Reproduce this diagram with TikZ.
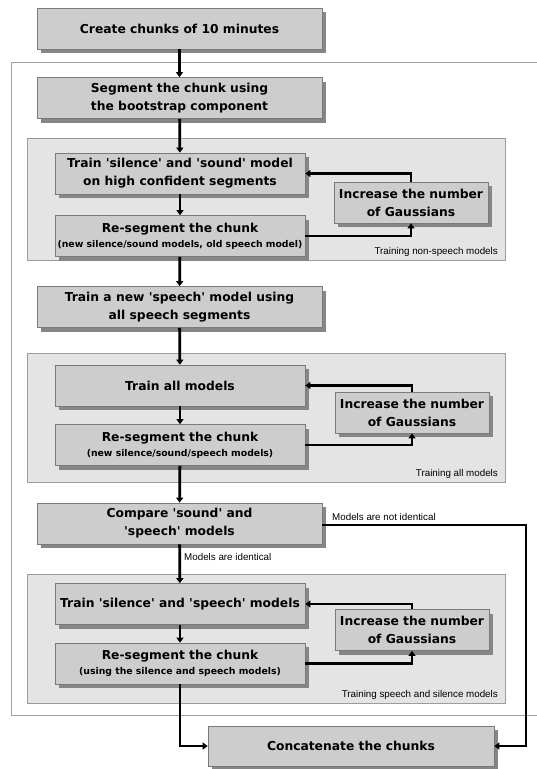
\documentclass[tikz,border=0pt]{standalone}
\usepackage{fontspec}
\setmainfont{DejaVu Sans}
\newfontfamily\labfont{Liberation Sans}
\usetikzlibrary{shadows,arrows.meta}
\definecolor{boxfill}{HTML}{CDCDCD}
\definecolor{boxline}{HTML}{7A7A7A}
\definecolor{shadowgray}{HTML}{868686}
\definecolor{panelfill}{HTML}{E4E4E4}
\definecolor{panelline}{HTML}{9C9C9C}
\definecolor{framecol}{HTML}{A0A0A0}
\newcommand\qq{\textquotesingle}
\newcommand\subline[1]{{\fontsize{9.3}{11}\selectfont #1}}
\begin{document}
\begin{tikzpicture}[x=1pt,y=-1pt,
  box/.style={draw=boxline, line width=0.7pt, fill=boxfill,
    drop shadow={shadow xshift=4pt,shadow yshift=-4pt,fill=shadowgray,opacity=1},
    inner sep=0pt, align=center, font=\bfseries\fontsize{12.3}{18}\selectfont},
  big/.style={box, minimum width=285pt, minimum height=41pt},
  mid/.style={box, minimum width=250pt, minimum height=41pt},
  incbox/.style={box, minimum width=154pt, minimum height=41pt},
  panel/.style={draw=panelline, fill=panelfill, line width=0.7pt},
  flow/.style={line width=2.8pt, -{Triangle[length=5pt,width=7pt]}},
  lbl/.style={font=\labfont\fontsize{9.8}{12}\selectfont, inner sep=0pt}]
\fill[white] (0,0) rectangle (536,769);
\useasboundingbox (0,0) rectangle (536,769);
% outer frame (open to the right)
\draw[framecol, line width=0.8pt] (537,62) -- (11,62) -- (11,715) -- (537,715);
% panels
\draw[panel] (27,138) rectangle (505,260);
\draw[panel] (27,353) rectangle (505,482);
\draw[panel] (27,574) rectangle (505,703);
\node[lbl, anchor=east] (p1) at (498,252) {Training non-speech models};
\node[lbl, anchor=east] (p2) at (498,474) {Training all models};
\node[lbl, anchor=east] (p3) at (498,695) {Training speech and silence models};
% nodes
\node[big] (create) at (179.5,28.5) {Create chunks of 10 minutes};
\node[big] (seg) at (179.5,98) {Segment the chunk using\\the bootstrap component};
\node[mid] (train1) at (180,173.5) {Train \qq silence\qq\ and \qq sound\qq\ model\\on high confident segments};
\node[mid] (reseg1) at (180,236) {Re-segment the chunk\\[-3pt]\subline{(new silence/sound models, old speech model)}};
\node[incbox] (inc1) at (411,202.5) {Increase the number\\of Gaussians};
\node[big] (speech) at (179.5,307) {Train a new \qq speech\qq\ model using\\all speech segments};
\node[mid] (trainall) at (180,385.5) {Train all models};
\node[mid] (reseg2) at (180,445) {Re-segment the chunk\\[-3pt]\subline{(new silence/sound/speech models)}};
\node[incbox] (inc2) at (412,412.5) {Increase the number\\of Gaussians};
\node[big] (compare) at (179.5,523.5) {Compare \qq sound\qq\ and\\\qq speech\qq\ models};
\node[mid] (trainsil) at (180,604) {Train \qq silence\qq\ and \qq speech\qq\ models};
\node[mid] (reseg3) at (180,663.5) {Re-segment the chunk\\[-3pt]\subline{(using the silence and speech models)}};
\node[incbox] (inc3) at (412,630) {Increase the number\\of Gaussians};
\node[box, minimum width=286pt, minimum height=40pt] (concat) at (351,746) {Concatenate the chunks};
% labels
\node[lbl, anchor=west] (lnot) at (332,517) {Models are not identical};
\node[lbl, anchor=west] (lid) at (184,557) {Models are identical};
% connectors
\draw[flow] (create) -- (seg);
\draw[flow] (seg) -- (train1);
\draw[flow] (train1) -- (reseg1);
\draw[flow] (inc1.north) |- (train1.east);
\draw[flow] (reseg1.east) -| (inc1.south);
\draw[flow] (reseg1) -- (speech);
\draw[flow] (speech) -- (trainall);
\draw[flow] (trainall) -- (reseg2);
\draw[flow] (inc2.north) |- (trainall.east);
\draw[flow] (reseg2.east) -| (inc2.south);
\draw[flow] (reseg2) -- (compare);
\draw[flow] (compare) -- (trainsil);
\draw[flow] (trainsil) -- (reseg3);
\draw[flow] (inc3.north) |- (trainsil.east);
\draw[flow] (reseg3.east) -| (inc3.south);
\coordinate (rt) at (526,525);
\draw[flow] (compare.east |- rt) -- (rt) |- (concat.east);
\draw[flow] (reseg3.south) |- (concat.west);
\end{tikzpicture}
\end{document}
